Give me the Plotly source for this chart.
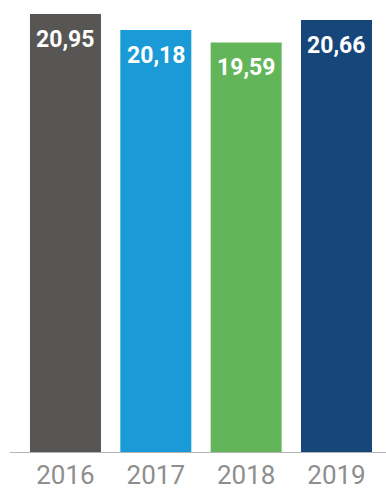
import plotly.graph_objects as go

years = ["2016", "2017", "2018", "2019"]
values = [20.95, 20.18, 19.59, 20.66]
labels = ["20,95", "20,18", "19,59", "20,66"]
colors = ["#575654", "#1a9bd7", "#63b55a", "#17477a"]

fig = go.Figure(go.Bar(
    x=years, y=values, marker_color=colors, width=0.786,
    marker_line_width=0, hoverinfo="skip"))

for i, (v, lab) in enumerate(zip(values, labels)):
    fig.add_annotation(x=i, y=v, xref="x", yref="y", text="<b>" + lab + "</b>",
                       showarrow=False, yanchor="top", yshift=-10,
                       font=dict(family="Roboto", size=23, color="white"))

fig.update_layout(
    width=386, height=489,
    margin=dict(l=10, r=0, t=0, b=37, autoexpand=False),
    paper_bgcolor="white", plot_bgcolor="white",
    showlegend=False,
    xaxis=dict(type="category", range=[-0.614, 3.548], showline=True,
               linecolor="#b5b5b5", linewidth=1, showgrid=False, ticks="",
               automargin=False,
               tickfont=dict(family="Roboto", size=26, color="#8e8e8e")),
    yaxis=dict(range=[0, 21.62], visible=False, showgrid=False, zeroline=False,
               automargin=False),
)

fig.write_html("out.html",
               config={"displayModeBar": False, "staticPlot": True},
               post_script="document.body.style.margin='0';document.body.style.overflow='hidden';")
